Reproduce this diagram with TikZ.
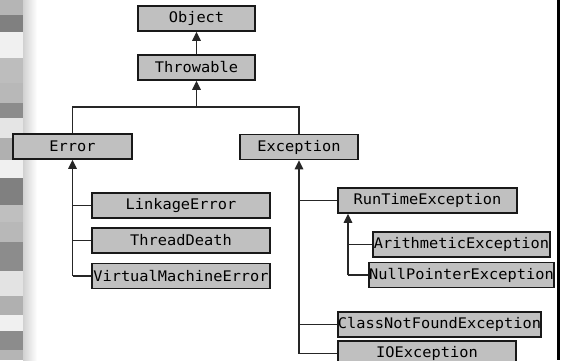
\documentclass[tikz,border=0pt]{standalone}
\usepackage{fontspec}
\setmonofont[FakeStretch=1.05]{DejaVu Sans Mono}
\usetikzlibrary{arrows.meta}
\definecolor{boxfill}{RGB}{192,192,192}
\definecolor{boxline}{RGB}{25,25,25}
\tikzset{
  cls/.style={draw=boxline, line width=1.6pt, fill=boxfill, minimum height=25pt,
    inner sep=0pt, font=\ttfamily\fontsize{14.6}{16}\selectfont},
  conn/.style={draw=black!85, line width=1.3pt},
  inherit/.style={conn, -{Triangle[length=9pt,width=8.5pt]}},
}
\begin{document}
\begin{tikzpicture}[x=1pt,y=-1pt]
\useasboundingbox (0,0) rectangle (561,360);
\fill[white] (0,0) rectangle (561,360);

% decorative striped band on the left edge
\foreach \ya/\yb/\g in {0/15/71,15/32/50,32/58/94,58/83/74,83/103/72,103/118/55,
  118/138/90,138/160/69,160/178/94,178/205/50,205/222/75,222/242/72,242/271/55,
  271/296/89,296/315/69,315/331/94,331/350/55,350/360/71}
  \fill[black!\the\numexpr100-\g\relax] (0,\ya) rectangle (23,\yb);
\shade[left color=black!18, right color=white] (23,0) rectangle (37,360);

% right border
\draw[line width=3pt] (558.5,0) -- (558.5,360);

% class boxes
\node[cls, minimum width=117pt] (obj) at (196.5,18.5) {Object};
\node[cls, minimum width=117pt] (thr) at (196.5,67.5) {Throwable};
\node[cls, minimum width=119pt] (err) at (72.5,146.5) {Error};
\node[cls, minimum width=118pt] (exc) at (299,147) {Exception};
\node[cls, minimum width=178pt] (lnk) at (181,205.5) {LinkageError};
\node[cls, minimum width=178pt] (thd) at (181,240.5) {ThreadDeath};
\node[cls, minimum width=178pt] (vme) at (181,276) {VirtualMachineError};
\node[cls, minimum width=179pt] (rte) at (427.5,200.5) {RunTimeException};
\node[cls, minimum width=177pt] (ari) at (461.5,244.5) {ArithmeticException};
\node[cls, minimum width=177pt] (npe) at (461.5,275) {NullPointerException};
\node[cls, minimum width=203pt] (cnf) at (439.5,324.5) {ClassNotFoundException};
\node[cls, minimum width=178pt] (ioe) at (427,353.5) {IOException};

% Object <- Throwable
\draw[inherit] (thr.north) -- (obj.south);

% Throwable <- Error, Exception
\coordinate (j) at (thr.south |- 0,107);
\draw[conn] (err.north) -- (err.north |- j) -- (exc.north |- j) -- (exc.north);
\draw[inherit] (j) -- (thr.south);

% Error subclasses
\draw[inherit] (err.south |- vme.west) -- (err.south);
\foreach \n in {lnk,thd,vme} \draw[conn] (err.south |- \n.west) -- (\n.west);

% Exception subclasses
\draw[inherit] (exc.south |- ioe.west) -- (exc.south);
\foreach \n in {rte,cnf,ioe} \draw[conn] (exc.south |- \n.west) -- (\n.west);

% RunTimeException subclasses
\coordinate (r) at (348,0);
\draw[inherit] (r |- npe.west) -- (r |- rte.south);
\foreach \n in {ari,npe} \draw[conn] (r |- \n.west) -- (\n.west);
\end{tikzpicture}
\end{document}
